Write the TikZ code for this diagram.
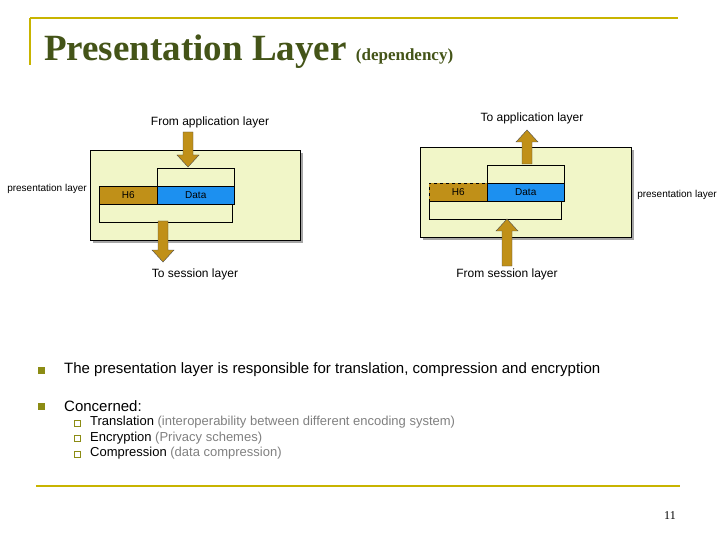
\documentclass[tikz,border=0pt]{standalone}
\usepackage{fontspec}
\setmainfont{Liberation Serif}
\setsansfont{Liberation Sans}
\begin{document}
\begin{tikzpicture}[x=1pt,y=-1pt,
  outer/.style={draw=black,fill=yellowfill,line width=0.6pt},
  wbox/.style={draw=black,fill=yellowfill,line width=0.5pt},
  hbox/.style={draw=black,fill=gold,line width=0.5pt},
  dbox/.style={draw=black,fill=datablue,line width=0.5pt},
  lbl/.style={font=\sffamily\fontsize{10}{11}\selectfont,inner sep=0pt},
  big/.style={font=\sffamily\fontsize{12}{13}\selectfont,inner sep=0pt},
  bul/.style={font=\sffamily\fontsize{15}{17}\selectfont,anchor=west,inner sep=0pt},
  sub/.style={font=\sffamily\fontsize{13}{15}\selectfont,anchor=west,inner sep=0pt}]
\definecolor{yellowfill}{HTML}{F1F6C8}
\definecolor{gold}{HTML}{C09018}
\definecolor{datablue}{HTML}{1C90F0}
\definecolor{olive}{HTML}{8C8C14}
\definecolor{linegold}{HTML}{C8B400}
\definecolor{titlecol}{HTML}{445418}
\useasboundingbox (0,0) rectangle (720,540);
% frame lines
\draw[linegold,line width=2.5pt] (30,18) -- (678,18);
\draw[linegold,line width=2.5pt] (30,18) -- (30,65);
\draw[linegold,line width=1.5pt] (36,486) -- (680,486);
\node[anchor=base west,inner sep=0pt,text=titlecol] (title) at (44,61) {\fontsize{37}{40}\selectfont\bfseries Presentation Layer \fontsize{17}{19}\selectfont(dependency)};
% arrow macro
\newcommand{\fatarrow}[4]{% x, ystart(tail), yend(head), dir (1 down,-1 up)
  \fill[gold,draw=black!70,line width=0.4pt] (#1-5,#2) -- (#1+5,#2) -- (#1+5,#3-#4*12) -- (#1+11,#3-#4*12) -- (#1,#3) -- (#1-11,#3-#4*12) -- (#1-5,#3-#4*12) -- cycle;}
% left diagram
\fill[gray!70] (93,153) rectangle (303,243);
\node[outer,minimum width=210,minimum height=90,anchor=north west,inner sep=0pt] (L) at (90,150) {};
\node[wbox,minimum width=77,minimum height=18,anchor=north west,inner sep=0pt] (Lu) at (157,168) {};
\node[wbox,minimum width=133,minimum height=18,anchor=north west,inner sep=0pt] (Ll) at (99,204) {};
\node[hbox,minimum width=58,minimum height=18,anchor=north west,inner sep=0pt,lbl] (Lh) at (99,186) {H6};
\node[dbox,minimum width=77,minimum height=18,anchor=north west,inner sep=0pt,lbl] (Ld) at (157,186) {Data};
\fatarrow{188}{132}{167}{1}
\fatarrow{163}{221}{262}{1}
\node[big] (t1) at (210,122) {From application layer};
\node[big] (t2) at (195,274) {To session layer};
\node[lbl] (t3) at (47,189) {presentation layer};
% right diagram
\fill[gray!70] (423,150) rectangle (634,240);
\node[outer,minimum width=211,minimum height=90,anchor=north west,inner sep=0pt] (R) at (420,147) {};
\node[wbox,minimum width=77,minimum height=18,anchor=north west,inner sep=0pt] (Ru) at (487,165) {};
\node[wbox,minimum width=132,minimum height=18,anchor=north west,inner sep=0pt] (Rl) at (429,201) {};
\node[hbox,dashed,minimum width=58,minimum height=18,anchor=north west,inner sep=0pt,lbl] (Rh) at (429,183) {H6};
\node[dbox,minimum width=77,minimum height=18,anchor=north west,inner sep=0pt,lbl] (Rd) at (487,183) {Data};
\fatarrow{527}{164}{130}{-1}
\fatarrow{507}{266}{219}{-1}
\node[big] (t4) at (532,118) {To application layer};
\node[big] (t5) at (507,274) {From session layer};
\node[lbl] (t6) at (677,195) {presentation layer};
% bullets
\fill[olive] (38,367) rectangle (45,374);
\fill[olive] (38,403) rectangle (45,410);
\node[bul] (b1) at (64,370) {The presentation layer is responsible for translation, compression and encryption};
\node[bul] (b2) at (64,406) {Concerned:};
\foreach \yy in {423,438,454} \draw[olive,line width=0.8pt] (74,\yy-3) rectangle (80,\yy+3);
\node[sub] (s1) at (90,422) {Translation \textcolor{gray}{(interoperability between different encoding system)}};
\node[sub] (s2) at (90,438) {Encryption \textcolor{gray}{(Privacy schemes)}};
\node[sub] (s3) at (90,453) {Compression \textcolor{gray}{(data compression)}};
\node[font=\fontsize{12}{13}\selectfont] (pg) at (670,516) {11};
\end{tikzpicture}
\end{document}
